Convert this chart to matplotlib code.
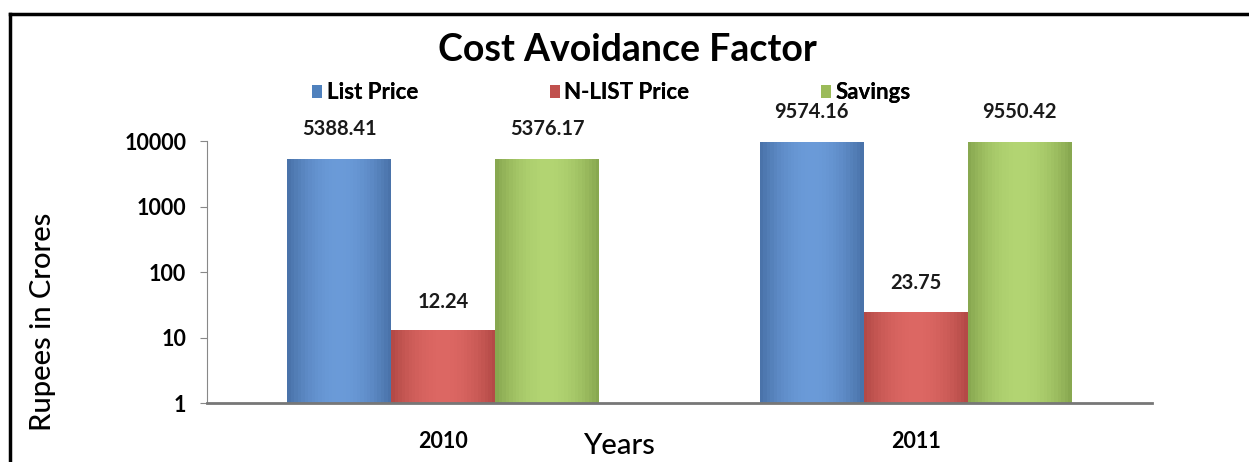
import numpy as np
import matplotlib
matplotlib.use("Agg")
import matplotlib.pyplot as plt
from matplotlib.lines import Line2D
from matplotlib.patches import Patch
from matplotlib.colors import to_rgb

years = ["2010", "2011"]
series = ["List Price", "N-LIST Price", "Savings"]
list_price = [5388.41, 9574.16]
nlist_price = [12.24, 23.75]
savings = [5376.17, 9550.42]

plt.rcParams["font.family"] = ["Lato", "DejaVu Sans"]

# dark edge, light centre, legend swatch
styles = [
    ("#274a78", "#6a9ad8", "#4f81bd"),
    ("#8a2c2a", "#dc6763", "#c0504d"),
    ("#5c7a2c", "#b2d472", "#9bbb59"),
]


def shade(dark, light, t):
    d = np.array(to_rgb(dark))
    l = np.array(to_rgb(light))
    p = 0.15 + 0.85 * np.sin(np.pi * (0.1 + 0.8 * t)) ** 0.8
    return tuple(d + p * (l - d))


fig = plt.figure(figsize=(12.49, 4.62), dpi=100)
ax = fig.add_axes([0.1657, 0.1277, 0.7566, 0.5671])

x = np.arange(len(years))
width = 0.22
strips = 30
handles = []
for i, vals in enumerate([list_price, nlist_price, savings]):
    dark, light, swatch = styles[i]
    offset = (i - 1) * width
    for k in range(strips):
        t = (k + 0.5) / strips
        ax.bar(x + offset - width / 2 + k * width / strips, vals, width / strips,
               bottom=1, align="edge", color=shade(dark, light, t),
               edgecolor="none", linewidth=0)
    for xi, v in zip(x, vals):
        ax.annotate(f"{v:.2f}", (xi + offset, min(v, 10000)), xytext=(0, 21.5),
                    textcoords="offset points", ha="center", va="center",
                    fontsize=14.5, fontweight="bold", color="#1a1a1a",
                    annotation_clip=False)
    handles.append(Patch(facecolor=swatch, edgecolor="none", label=series[i]))

ax.set_yscale("log")
ax.set_ylim(1, 10000)
ax.set_xlim(-0.5, 1.5)
ax.set_yticks([1, 10, 100, 1000, 10000])
ax.set_yticklabels(["1", "10", "100", "1000", "10000"])
ax.set_xticks(x)
ax.set_xticklabels(years)
ax.minorticks_off()
ax.tick_params(axis="y", length=5, color="#888888", labelsize=15.5, pad=10)
ax.tick_params(axis="x", length=0, labelsize=15.5, pad=20)
for lab in ax.get_xticklabels() + ax.get_yticklabels():
    lab.set_fontweight("bold")
ax.spines["top"].set_visible(False)
ax.spines["right"].set_visible(False)
ax.spines["left"].set_color("#888888")
ax.spines["bottom"].set_color("#777777")
ax.spines["bottom"].set_linewidth(2)

fig.text(43 / 1249, 1 - 322 / 462, "Rupees in Crores", fontsize=21, rotation=90,
         ha="center", va="center", fontweight="medium")
fig.text(619 / 1249, 1 - 446 / 462, "Years", fontsize=21, ha="center", va="center",
         fontweight="medium")
fig.text(627 / 1249, 1 - 50 / 462, "Cost Avoidance Factor", fontsize=27,
         fontweight="bold", ha="center", va="center")

leg_x = [0.250, 0.440, 0.657]
for h, lx in zip(handles, leg_x):
    lg = fig.legend(handles=[h], loc="center left", bbox_to_anchor=(lx, 0.799),
                    frameon=False, handlelength=0.45, handleheight=0.55,
                    handletextpad=0.2, borderaxespad=0, borderpad=0,
                    prop={"size": 16, "weight": "bold"})
    fig.add_artist(lg)

# frame around the picture
fig.add_artist(Line2D([10 / 1249, 10 / 1249], [0, 1 - 14 / 462], color="black",
                      lw=2.5, transform=fig.transFigure))
fig.add_artist(Line2D([10 / 1249, 1], [1 - 14 / 462, 1 - 14 / 462], color="black",
                      lw=2.5, transform=fig.transFigure))

fig.savefig("out.png", dpi=100)
